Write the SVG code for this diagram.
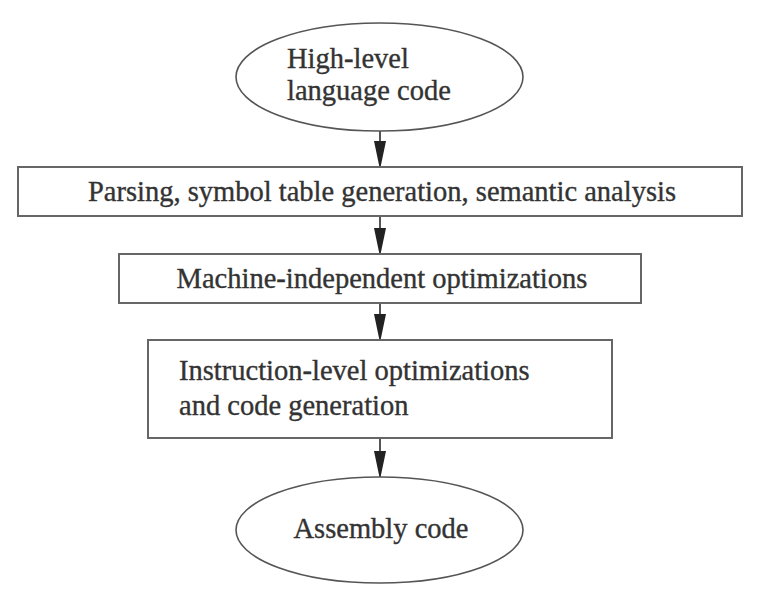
<svg xmlns="http://www.w3.org/2000/svg" width="762" height="600" viewBox="0 0 762 600">
<style>
.box{fill:#fff;stroke:#666;stroke-width:2}
.oval{fill:#fff;stroke:#555;stroke-width:1.6}
.t{font-family:"Liberation Serif","Times New Roman",serif;font-size:28.5px;fill:#333;stroke:#333;stroke-width:0.35}
.c{text-anchor:middle}
.conn{stroke:#555;stroke-width:2;fill:none}
</style>
<defs>
<marker id="ah" markerUnits="userSpaceOnUse" viewBox="0 -6.5 26 13" refX="26" refY="0" markerWidth="26" markerHeight="13" orient="auto">
<path d="M0,-6 L23,-1.2 L26,0 L23,1.2 L0,6 Z" fill="#222"/>
</marker>
</defs>
<rect width="762" height="600" fill="#fff"/>
<g id="connectors">
<line class="conn" x1="380" y1="131" x2="380" y2="167" marker-end="url(#ah)"/>
<line class="conn" x1="380" y1="216" x2="380" y2="254" marker-end="url(#ah)"/>
<line class="conn" x1="380" y1="303" x2="380" y2="340" marker-end="url(#ah)"/>
<line class="conn" x1="380" y1="438" x2="380" y2="477" marker-end="url(#ah)"/>
</g>
<g id="n1">
<ellipse class="oval" cx="379.5" cy="77" rx="143.5" ry="54"/>
<text class="t" x="287" y="68">High-level</text>
<text class="t" x="287" y="100">language code</text>
</g>
<g id="n2">
<rect class="box" x="18" y="167" width="724" height="49"/>
<text class="t c" x="382" y="201">Parsing, symbol table generation, semantic analysis</text>
</g>
<g id="n3">
<rect class="box" x="119" y="254" width="522" height="49"/>
<text class="t c" x="382" y="288">Machine-independent optimizations</text>
</g>
<g id="n4">
<rect class="box" x="148" y="340" width="464" height="98"/>
<text class="t" x="179" y="380">Instruction-level optimizations</text>
<text class="t" x="179" y="415">and code generation</text>
</g>
<g id="n5">
<ellipse class="oval" cx="379.5" cy="530" rx="143.5" ry="53"/>
<text class="t c" x="381" y="538">Assembly code</text>
</g>
</svg>
